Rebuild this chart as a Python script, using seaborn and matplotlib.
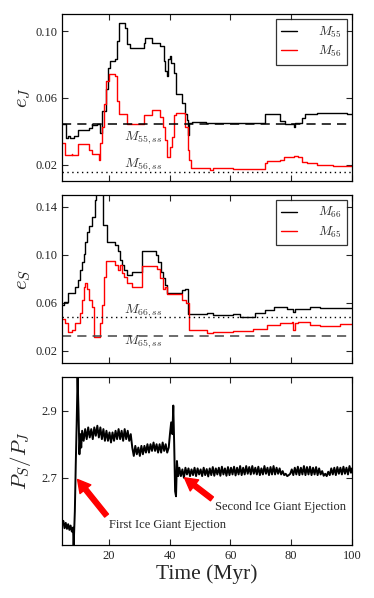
import numpy as np
import pandas as pd
import matplotlib
matplotlib.use('Agg')
import matplotlib.pyplot as plt
import seaborn as sns

# ---- data ----
# top panel: e_J
t_m55 = [4.6, 5.9, 6.7, 7.2, 8.6, 9.7, 13.3, 14.4, 14.6, 16.1, 17.2, 17.8, 18.9, 19.6, 20.4,
         22.1, 22.6, 23.3, 25.4, 26.1, 27.0, 31.4, 32.0, 34.1, 36.7, 38.0, 38.5, 39.1, 39.6,
         40.2, 40.5, 41.3, 42.2, 44.0, 45.1, 45.7, 46.2, 46.5, 47.3, 52.0, 60.0, 71.4, 73.1,
         76.4, 78.0, 80.8, 81.3, 83.5, 84.6, 88.4, 98.3, 100.0]
e_m55 = [0.044, 0.0358, 0.037, 0.0358, 0.0372, 0.0406, 0.042, 0.0445, 0.0435, 0.044, 0.039,
         0.052, 0.065, 0.078, 0.082, 0.083, 0.094, 0.105, 0.102, 0.0925, 0.0897, 0.093, 0.0957,
         0.093, 0.091, 0.082, 0.076, 0.073, 0.083, 0.085, 0.081, 0.075, 0.062, 0.057, 0.050,
         0.0465, 0.0376, 0.0449, 0.0452, 0.0446, 0.0448, 0.050, 0.0505, 0.046, 0.0445, 0.0425,
         0.0449, 0.048, 0.050, 0.051, 0.0505, 0.0505]

t_m56 = [4.6, 5.6, 7.8, 8.0, 9.7, 13.3, 14.4, 16.6, 17.2, 17.8, 18.5, 19.1, 20.2, 22.1, 22.6,
         23.3, 25.9, 26.6, 31.4, 34.1, 36.8, 37.7, 38.5, 39.1, 40.0, 40.8, 41.5, 42.2, 45.1,
         45.9, 46.5, 47.0, 53.3, 54.4, 60.9, 71.4, 72.0, 76.4, 77.5, 80.8, 82.4, 83.5, 85.1,
         88.4, 93.9, 100.0]
e_m56 = [0.033, 0.0257, 0.0263, 0.0257, 0.032, 0.0287, 0.0263, 0.023, 0.0326, 0.0425, 0.0564,
         0.070, 0.074, 0.073, 0.058, 0.050, 0.0445, 0.044, 0.0495, 0.0525, 0.0485, 0.0425,
         0.0346, 0.0247, 0.0306, 0.0366, 0.0495, 0.051, 0.0425, 0.0287, 0.0227, 0.0178, 0.0168,
         0.0178, 0.0174, 0.0207, 0.022, 0.023, 0.0243, 0.025, 0.0243, 0.0217, 0.0207, 0.0197,
         0.0193, 0.0193]

eJ_m55_ss = 0.044
eJ_m56_ss = 0.0156

# middle panel: e_S
t_m66 = [4.6, 5.3, 6.7, 7.8, 8.9, 9.7, 10.6, 11.1, 11.7, 12.2, 12.8, 13.6, 14.4, 15.3, 15.6,
         18.2, 19.3, 22.1, 22.9, 23.5, 24.3, 25.0, 25.9, 27.6, 30.9, 35.6, 36.3, 37.1, 37.8,
         38.5, 39.1, 44.0, 45.1, 46.2, 52.2, 54.4, 61.0, 63.2, 68.1, 71.4, 74.2, 78.6, 80.7,
         81.3, 86.2, 89.5, 100.0]
e_m66 = [0.058, 0.061, 0.068, 0.0686, 0.0736, 0.079, 0.0875, 0.094, 0.101, 0.111, 0.1195,
         0.124, 0.132, 0.146, 0.20, 0.125, 0.111, 0.108, 0.103, 0.096, 0.0917, 0.0875, 0.083,
         0.086, 0.103, 0.100, 0.0944, 0.086, 0.0806, 0.075, 0.068, 0.0708, 0.0717, 0.0508,
         0.0518, 0.0497, 0.0508, 0.0486, 0.052, 0.054, 0.0564, 0.0553, 0.0525, 0.0553, 0.057,
         0.056, 0.056]

t_m65 = [4.6, 5.6, 6.7, 7.8, 8.9, 9.7, 10.6, 11.1, 11.7, 12.2, 12.8, 13.6, 14.4, 15.2, 17.1,
         17.8, 18.5, 19.1, 22.1, 22.9, 23.5, 24.3, 25.0, 25.9, 27.6, 30.9, 35.8, 36.9, 37.8,
         38.5, 39.1, 44.0, 45.4, 46.3, 52.2, 54.4, 61.0, 67.6, 72.0, 76.4, 80.2, 80.7, 81.3,
         82.4, 86.2, 89.5, 96.1, 100.0]
e_m65 = [0.047, 0.0436, 0.036, 0.0375, 0.043, 0.0436, 0.0514, 0.0625, 0.0736, 0.0764, 0.072,
         0.0625, 0.057, 0.032, 0.043, 0.058, 0.082, 0.095, 0.0917, 0.0875, 0.0917, 0.0847,
         0.082, 0.0764, 0.0736, 0.0908, 0.088, 0.0806, 0.0714, 0.0736, 0.0672, 0.0625, 0.060,
         0.0375, 0.0353, 0.036, 0.0369, 0.038, 0.0417, 0.0436, 0.0444, 0.0375, 0.043, 0.0444,
         0.0417, 0.041, 0.0425, 0.0425]

eS_m66_ss = 0.048
eS_m65_ss = 0.0328

# bottom panel: period ratio P_S/P_J
t_ratio = [4.6, 5.0, 5.4, 5.8, 6.2, 6.6, 7.0, 7.4, 7.8, 8.2,
           8.4, 8.8, 9.1, 9.4, 9.7, 10.0, 10.3, 10.6, 10.9,
           11.2, 11.7, 12.2, 12.7, 13.2, 13.7, 14.2, 14.7, 15.2, 15.7, 16.2, 16.7, 17.2, 17.7,
           18.2, 18.7, 19.2, 19.7, 20.2, 20.7, 21.2, 21.7, 22.2, 22.7, 23.2, 23.7, 24.2, 24.7,
           25.2, 25.7, 26.2, 26.7, 27.2,
           27.7, 28.2, 28.7, 29.2, 29.7, 30.2, 30.7, 31.2, 31.7, 32.2, 32.7, 33.2, 33.7, 34.2,
           34.7, 35.2, 35.7, 36.2, 36.7, 37.2, 37.7, 38.2, 38.7, 39.2, 39.7,
           40.1, 40.5, 40.9, 41.2, 41.5, 41.8, 42.1, 42.4, 42.8, 43.2,
           43.7, 44.2, 44.7, 45.2, 45.7, 46.2, 46.7, 47.2, 47.7, 48.2,
           48.7, 49.2, 49.7, 50.2, 50.7, 51.2, 51.7, 52.2, 52.7, 53.2,
           53.7, 54.2, 54.7, 55.2, 55.7, 56.2, 56.7, 57.2, 57.7, 58.2,
           58.7, 59.2, 59.7, 60.2, 60.7, 61.2, 61.7, 62.2, 62.7, 63.2,
           63.7, 64.2, 64.7, 65.2, 65.7, 66.2, 66.7, 67.2, 67.7, 68.2,
           68.7, 69.2, 69.7, 70.2, 70.7, 71.2, 71.7, 72.2, 72.7, 73.2,
           73.7, 74.2, 74.7, 75.2, 75.7, 76.2, 76.7, 77.2, 77.7, 78.2,
           78.7, 79.2, 79.7, 80.2, 80.7, 81.2, 81.7, 82.2, 82.7, 83.2,
           83.7, 84.2, 84.7, 85.2, 85.7, 86.2, 86.7, 87.2, 87.7, 88.2,
           88.7, 89.2, 89.7, 90.2, 90.7, 91.2, 91.7, 92.2, 92.7, 93.2,
           93.7, 94.2, 94.7, 95.2, 95.7, 96.2, 96.7, 97.2, 97.7, 98.2,
           98.7, 99.2, 99.7, 100.0]
p_ratio = [2.56, 2.572, 2.55, 2.566, 2.548, 2.562, 2.545, 2.558, 2.54, 2.552,
           2.495, 2.60, 2.74, 2.86, 3.00, 2.90, 2.77, 2.83, 2.79,
           2.84, 2.81, 2.845, 2.815, 2.85, 2.82, 2.845, 2.815, 2.85, 2.825, 2.855, 2.82, 2.85,
           2.815, 2.845, 2.81, 2.84, 2.81, 2.835, 2.805, 2.835, 2.81, 2.84, 2.815, 2.845, 2.815,
           2.84, 2.81, 2.845, 2.815, 2.84, 2.81, 2.83,
           2.79, 2.765, 2.795, 2.77, 2.79, 2.765, 2.795, 2.77, 2.795, 2.775, 2.80, 2.775, 2.80,
           2.78, 2.805, 2.78, 2.80, 2.775, 2.80, 2.775, 2.805, 2.78, 2.80, 2.775, 2.79,
           2.83, 2.865, 2.83, 2.915, 2.80, 2.66, 2.645, 2.75, 2.705, 2.73,
           2.705, 2.725, 2.70, 2.73, 2.71, 2.728, 2.705, 2.725, 2.708, 2.73,
           2.705, 2.728, 2.71, 2.725, 2.705, 2.73, 2.708, 2.726, 2.704, 2.728,
           2.708, 2.732, 2.706, 2.728, 2.71, 2.73, 2.706, 2.733, 2.71, 2.728,
           2.706, 2.732, 2.708, 2.73, 2.71, 2.733, 2.707, 2.73, 2.71, 2.735,
           2.708, 2.73, 2.71, 2.735, 2.712, 2.732, 2.71, 2.735, 2.712, 2.73,
           2.71, 2.733, 2.708, 2.728, 2.71, 2.735, 2.712, 2.73, 2.708, 2.732,
           2.71, 2.735, 2.71, 2.73, 2.712, 2.728, 2.71, 2.72, 2.708, 2.712,
           2.705, 2.708, 2.712, 2.725, 2.708, 2.73, 2.71, 2.733, 2.708, 2.73,
           2.71, 2.735, 2.708, 2.732, 2.71, 2.733, 2.708, 2.73, 2.71, 2.732,
           2.708, 2.728, 2.71, 2.72, 2.706, 2.712, 2.705, 2.718, 2.708, 2.728,
           2.71, 2.73, 2.708, 2.732, 2.712, 2.73, 2.71, 2.733, 2.712, 2.73,
           2.71, 2.735, 2.715, 2.728]

x_ticks = [20, 40, 60, 80, 100]

# ---- style ----
sns.set_style('ticks')
plt.rcParams['font.family'] = ['Liberation Serif', 'DejaVu Serif']
plt.rcParams['mathtext.fontset'] = 'cm'
plt.rcParams['xtick.direction'] = 'in'
plt.rcParams['ytick.direction'] = 'in'
plt.rcParams['xtick.top'] = True
plt.rcParams['ytick.right'] = True
plt.rcParams['xtick.major.size'] = 4
plt.rcParams['ytick.major.size'] = 4
plt.rcParams['axes.edgecolor'] = 'black'
plt.rcParams['axes.linewidth'] = 0.9

fig = plt.figure(figsize=(3.74, 5.98), dpi=100)
ax1 = fig.add_axes([0.166, 0.697, 0.775, 0.279])
ax2 = fig.add_axes([0.166, 0.393, 0.775, 0.281])
ax3 = fig.add_axes([0.166, 0.0886, 0.775, 0.281])

def step_line(ax, t, v, color, label):
    df = pd.DataFrame({'t': t, 'v': v})
    sns.lineplot(data=df, x='t', y='v', ax=ax, color=color, lw=1.0,
                 drawstyle='steps-post', label=label, estimator=None)

def style_legend(ax):
    leg = ax.legend(loc='upper right', fontsize=9.5, frameon=True, fancybox=False,
                    handlelength=1.2, handletextpad=1.6, borderpad=0.4,
                    labelspacing=0.32, borderaxespad=0.38)
    leg.get_frame().set_edgecolor('black')
    leg.get_frame().set_linewidth(0.9)

# top panel
step_line(ax1, t_m55, e_m55, 'black', r'$M_{55}$')
step_line(ax1, t_m56, e_m56, 'red', r'$M_{56}$')
ax1.axhline(eJ_m55_ss, color='black', ls=(0, (6, 4)), lw=1.1)
ax1.axhline(eJ_m56_ss, color='black', ls=(0, (1, 2.5)), lw=1.0)
ax1.text(25, 0.0362, r'$M_{55,ss}$', fontsize=10, color='#333333', ha='left', va='center')
ax1.text(25, 0.0197, r'$M_{56,ss}$', fontsize=10, color='#333333', ha='left', va='center')
ax1.set_ylim(0.01, 0.11)
ax1.set_yticks([0.02, 0.06, 0.10])
ax1.set_yticklabels(['0.02', '0.06', '0.10'])
ax1.set_ylabel(r'$e_J$', fontsize=15)
style_legend(ax1)

# middle panel
step_line(ax2, t_m66, e_m66, 'black', r'$M_{66}$')
step_line(ax2, t_m65, e_m65, 'red', r'$M_{65}$')
ax2.axhline(eS_m66_ss, color='black', ls=(0, (1, 2.5)), lw=1.0)
ax2.axhline(eS_m65_ss, color='#444444', ls=(0, (6, 4)), lw=1.1)
ax2.text(25, 0.054, r'$M_{66,ss}$', fontsize=10, color='#333333', ha='left', va='center')
ax2.text(25, 0.0278, r'$M_{65,ss}$', fontsize=10, color='#333333', ha='left', va='center')
ax2.set_ylim(0.01, 0.15)
ax2.set_yticks([0.02, 0.06, 0.10, 0.14])
ax2.set_yticklabels(['0.02', '0.06', '0.10', '0.14'])
ax2.set_ylabel(r'$e_S$', fontsize=15)
style_legend(ax2)

# bottom panel
sns.lineplot(x=t_ratio, y=p_ratio, ax=ax3, color='black', lw=1.4, estimator=None)
ax3.set_ylim(2.5, 3.0)
ax3.set_yticks([2.7, 2.9])
ax3.set_yticklabels(['2.7', '2.9'])
ax3.set_ylabel(r'$P_S/P_J$', fontsize=15)
ax3.set_xlabel('Time (Myr)', fontsize=15.5, labelpad=2)

arrow = dict(facecolor='red', edgecolor='red', width=3.5, headwidth=10, headlength=9, shrink=0)
ax3.annotate('First Ice Giant Ejection', xy=(9.7, 2.695), xytext=(20.1, 2.56),
             fontsize=9, ha='left', va='center', arrowprops=arrow)
ax3.annotate('Second Ice Giant Ejection', xy=(44.9, 2.70), xytext=(55, 2.612),
             fontsize=9, ha='left', va='center', arrowprops=arrow)

for ax in (ax1, ax2, ax3):
    ax.set_xlim(4.6, 100)
    ax.set_xticks(x_ticks)
    ax.tick_params(labelsize=9, width=0.8)
    for s in ax.spines.values():
        s.set_visible(True)
    ax.yaxis.set_label_coords(-0.10, 0.5)
for ax in (ax1, ax2):
    ax.set_xlabel('')
    ax.set_xticklabels([])
ax3.set_xticklabels([str(v) for v in x_ticks])

fig.savefig('out.png', dpi=100)
